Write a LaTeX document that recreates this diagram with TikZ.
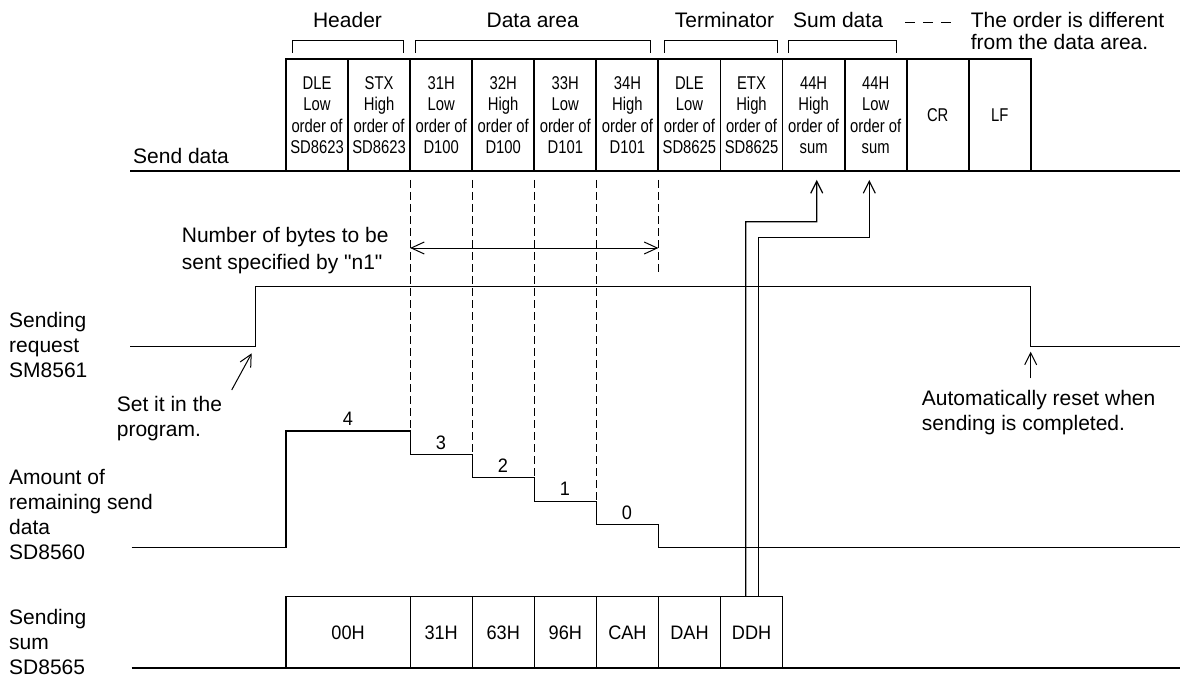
\documentclass[tikz,border=0pt]{standalone}
\usepackage{fontspec}
\setmainfont{Liberation Sans}[Ligatures=TeXOff]
\newfontfamily\narrowf{Liberation Sans}[FakeStretch=0.8]
\newfontfamily\semif{Liberation Sans}[FakeStretch=0.93]
\usetikzlibrary{arrows.meta}
\begin{document}
\begin{tikzpicture}[x=1pt,y=-1pt,
 lbl/.style={font=\fontsize{21}{24.8}\selectfont, align=left, inner sep=0pt, anchor=north west},
 hdr/.style={font=\fontsize{21}{24.8}\selectfont, inner sep=0pt},
 cell/.style={draw, line width=1.8pt, minimum width=62.07pt, minimum height=112pt, inner sep=0pt, align=center, font=\narrowf\fontsize{18.5}{21.5}\selectfont},
 sbox/.style={draw, line width=1.1pt, minimum height=71.6pt, inner sep=0pt, font=\semif\fontsize{19.5}{22}\selectfont},
 sig/.style={line width=1.2pt},
 dsh/.style={line width=0.9pt, dash pattern=on 8pt off 4pt},
 brk/.style={line width=1pt},
 tip/.style={-{Straight Barb[length=12pt,width=12pt]}},
 num/.style={font=\semif\fontsize{19.5}{22}\selectfont, inner sep=0pt}
]
\useasboundingbox (0,0) rectangle (1180,679);

% header labels and brackets
\node[hdr] (hH) at (347.5,20) {Header};
\node[hdr] (hD) at (532.7,20) {Data area};
\node[hdr] (hT) at (724.4,20) {Terminator};
\node[hdr] (hS) at (838,20) {Sum data};
\draw[brk] (292,53) -- (292,41) -- (403,41) -- (403,53);
\draw[brk] (415.5,53) -- (415.5,41) -- (650,41) -- (650,53);
\draw[brk] (664,53) -- (664,41) -- (777,41) -- (777,53);
\draw[brk] (788,53) -- (788,41) -- (896.5,41) -- (896.5,53);
\node[lbl, font=\fontsize{21}{21.7}\selectfont] (note) at (970.6,12.2) {The order is different\\from the data area.};
\coordinate (dA) at (905,23);
\coordinate (dB) at (951,23);
\draw[line width=1pt, dash pattern=on 10pt off 8pt] (dA) -- (dB);

% send data cells
\node[cell] (c1) at (317.0,115) {DLE\\Low\\order of\\SD8623};
\node[cell] (c2) at (379.1,115) {STX\\High\\order of\\SD8623};
\node[cell] (c3) at (441.2,115) {31H\\Low\\order of\\D100};
\node[cell] (c4) at (503.2,115) {32H\\High\\order of\\D100};
\node[cell] (c5) at (565.3,115) {33H\\Low\\order of\\D101};
\node[cell] (c6) at (627.4,115) {34H\\High\\order of\\D101};
\node[cell] (c7) at (689.4,115) {DLE\\Low\\order of\\SD8625};
\node[cell] (c8) at (751.5,115) {ETX\\High\\order of\\SD8625};
\node[cell] (c9) at (813.6,115) {44H\\High\\order of\\sum};
\node[cell] (c10) at (875.7,115) {44H\\Low\\order of\\sum};
\node[cell] (c11) at (937.7,115) {CR};
\node[cell] (c12) at (999.8,115) {LF};
\node[hdr, anchor=west] (sd) at (133,156) {Send data};
\coordinate (L0) at (130,171);
\coordinate (L1) at (1180,171);
\draw[line width=1.8pt] (L0) -- (L1);

% dashed guides
\draw[dsh] (410.1,180) -- (410.1,431);
\draw[dsh] (472.2,180) -- (472.2,454.3);
\draw[dsh] (534.3,180) -- (534.3,477.7);
\draw[dsh] (596.4,180) -- (596.4,501);
\draw[dsh] (658.4,180) -- (658.4,273);

% number of bytes
\node[lbl, font=\fontsize{21}{26.7}\selectfont] (nb) at (181.7,227.2) {Number of bytes to be\\sent specified by "n1"};
\coordinate (bA) at (410.1,248);
\coordinate (bB) at (658.4,248);
\draw[line width=1pt, {Straight Barb[length=13pt,width=12pt]}-{Straight Barb[length=13pt,width=12pt]}] (bA) -- (bB);

% sending request
\node[lbl] (lr) at (9,312.2) {Sending\\request\\SM8561};
\draw[sig] (130,346.7) -- (255.7,346.7) -- (255.7,286.7) -- (1030.8,286.7) -- (1030.8,346.7) -- (1180,346.7);
\node[lbl] (setit) at (116.7,396.2) {Set it in the\\program.};
\coordinate (sA) at (231.7,390);
\coordinate (sB) at (251.7,353.3);
\draw[line width=1pt, tip] (sA) -- (sB);
\node[lbl] (auto) at (921.7,390.5) {Automatically reset when\\sending is completed.};
\coordinate (aA) at (1030.7,378.3);
\coordinate (aB) at (1030.7,351.7);
\draw[line width=1pt, tip] (aA) -- (aB);

% amount of remaining send data
\node[lbl] (la) at (9,469.2) {Amount of\\remaining send\\data\\SD8560};
\draw[sig] (131.7,547.7) -- (286,547.7) -- (286,431) -- (410.1,431) -- (410.1,454.3) -- (472.2,454.3) -- (472.2,477.7) -- (534.3,477.7) -- (534.3,501.3) -- (596.4,501.3) -- (596.4,524.3) -- (658.4,524.3) -- (658.4,547.7) -- (1180,547.7);
\node[num] (n4) at (348,419) {4};
\node[num] (n3) at (441,442.3) {3};
\node[num] (n2) at (503,465.7) {2};
\node[num] (n1) at (565,489) {1};
\node[num] (n0) at (627,512.3) {0};

% sending sum
\node[lbl] (ls) at (9,609.2) {Sending\\sum\\SD8565};
\node[sbox, minimum width=124.1pt] (s0) at (348.05,632.5) {00H};
\node[sbox, minimum width=62.1pt] (s1) at (441.15,632.5) {31H};
\node[sbox, minimum width=62.1pt] (s2) at (503.25,632.5) {63H};
\node[sbox, minimum width=62.1pt] (s3) at (565.35,632.5) {96H};
\node[sbox, minimum width=62.0pt] (s4) at (627.4,632.5) {CAH};
\node[sbox, minimum width=62.1pt] (s5) at (689.45,632.5) {DAH};
\node[sbox, minimum width=62.1pt] (s6) at (751.55,632.5) {DDH};
\draw[line width=1.8pt] (131.7,668.3) -- (1180,668.3);

% sum connectors
\draw[sig, tip] ([xshift=-5.85pt]s6.north) |- (816.7,221.7) -- ([xshift=3.1pt,yshift=-8pt]c9.south);
\draw[sig, tip] ([xshift=6.75pt]s6.north) |- (869.3,237.7) -- ([xshift=-6.4pt,yshift=-8pt]c10.south);
\end{tikzpicture}
\end{document}
